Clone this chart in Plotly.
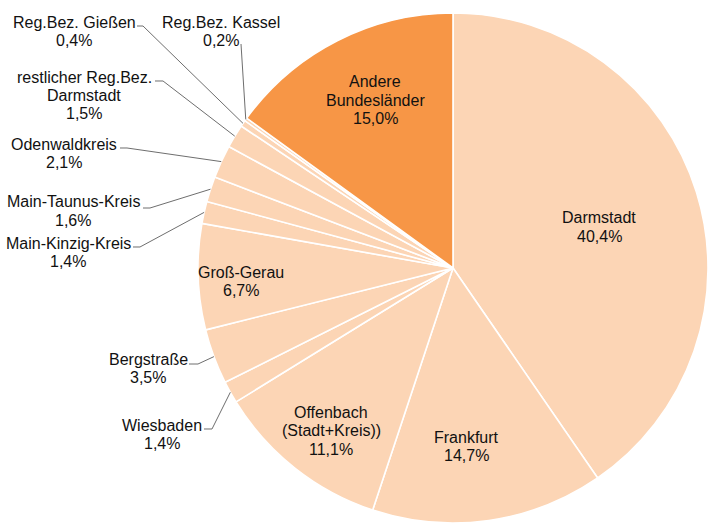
import math
import plotly.graph_objects as go

# ---------------- data ----------------
labels = ["Darmstadt", "Frankfurt", "Offenbach (Stadt+Kreis))", "Wiesbaden", "Bergstraße",
          "Groß-Gerau", "Main-Kinzig-Kreis", "Main-Taunus-Kreis", "Odenwaldkreis",
          "restlicher Reg.Bez. Darmstadt", "Reg.Bez. Gießen", "Reg.Bez. Kassel",
          "Andere Bundesländer"]
label_lines = [["Darmstadt"], ["Frankfurt"], ["Offenbach", "(Stadt+Kreis))"], ["Wiesbaden"],
               ["Bergstraße"], ["Groß-Gerau"], ["Main-Kinzig-Kreis"], ["Main-Taunus-Kreis"],
               ["Odenwaldkreis"], ["restlicher Reg.Bez.", "Darmstadt"], ["Reg.Bez. Gießen"],
               ["Reg.Bez. Kassel"], ["Andere", "Bundesländer"]]
values = [40.4, 14.7, 11.1, 1.4, 3.5, 6.7, 1.4, 1.6, 2.1, 1.5, 0.4, 0.2, 15.0]

PEACH = "#FCD5B5"
ORANGE = "#F79646"
colors = [PEACH] * 12 + [ORANGE]

# ---------------- layout helpers (pixels) ----------------
W, H = 708, 524
CX, CY, R = 453, 268, 255
LINE_H = 18.5
FONT = dict(family="Liberation Sans, Arial, sans-serif", size=16, color="#111111")

# label placement: (center x, first line y, leader start points or None)
label_pos = {
    "Darmstadt": (599, 218, None),
    "Frankfurt": (466, 437, None),
    "Offenbach (Stadt+Kreis))": (331, 412, None),
    "Groß-Gerau": (241, 272, None),
    "Andere Bundesländer": (375, 82, None),
    "Wiesbaden": (162, 425, [(204, 429), (212, 429)]),
    "Bergstraße": (148, 359, [(189, 364), (198, 364)]),
    "Main-Kinzig-Kreis": (68, 243, [(133, 247), (140, 247)]),
    "Main-Taunus-Kreis": (73, 202, [(143, 208), (150, 208)]),
    "Odenwaldkreis": (64, 144, [(120, 148), (127, 148)]),
    "restlicher Reg.Bez. Darmstadt": (84, 77, [(155, 81), (163, 81)]),
    "Reg.Bez. Gießen": (74, 22, [(137, 26), (143, 26)]),
    "Reg.Bez. Kassel": (221, 22, [(241, 44)]),
}


def px(x):
    return x / W


def py(y):
    return 1 - y / H


fig = go.Figure(go.Pie(
    labels=labels,
    values=values,
    sort=False,
    direction="clockwise",
    rotation=0,
    textinfo="none",
    hoverinfo="label+percent",
    marker=dict(colors=colors, line=dict(color="white", width=1.6)),
    domain=dict(x=[(CX - R) / W, min(1.0, (CX + R) / W)],
                y=[(H - (CY + R)) / H, (H - (CY - R)) / H]),
    showlegend=False,
))

annotations = []
shapes = []
total = sum(values)
cum = 0.0
for lab, lines, v in zip(labels, label_lines, values):
    mid = (cum + v / 2) / total
    cum += v
    cx, y0, leader = label_pos[lab]
    pct = f"{v:.1f}".replace(".", ",") + "%"
    for i, t in enumerate(lines + [pct]):
        annotations.append(dict(
            x=px(cx), y=py(y0 + i * LINE_H), xref="paper", yref="paper",
            text=t, showarrow=False, xanchor="center", yanchor="middle",
            font=FONT, borderpad=0,
        ))
    if leader:
        ang = 2 * math.pi * mid
        ex = CX + R * math.sin(ang)
        ey = CY - R * math.cos(ang)
        pts = leader + [(ex, ey)]
        path = "M " + " L ".join(f"{px(a):.5f},{py(b):.5f}" for a, b in pts)
        shapes.append(dict(type="path", path=path, xref="paper", yref="paper",
                           line=dict(color="#6e6e6e", width=1)))

fig.update_layout(
    width=W, height=H,
    margin=dict(l=0, r=0, t=0, b=0),
    paper_bgcolor="white",
    plot_bgcolor="white",
    annotations=annotations,
    shapes=shapes,
)

fig.write_html(
    "out.html",
    config={"displayModeBar": False},
    post_script="document.body.style.margin='0px';document.body.style.overflow='hidden';",
)
